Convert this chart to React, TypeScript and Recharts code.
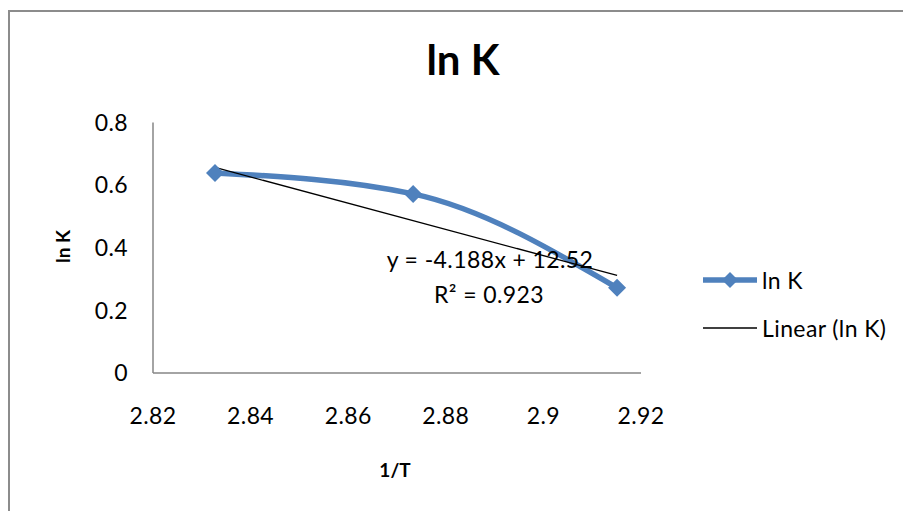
import { LineChart, Line, XAxis, YAxis, Legend } from "recharts";

// 1/T (x) against ln K (y), three measured points
const invT = [2.8327, 2.8733, 2.9151];
const lnK = [0.639, 0.572, 0.272];

const xTicks = [2.82, 2.84, 2.86, 2.88, 2.9, 2.92];
const yTicks = [0, 0.2, 0.4, 0.6, 0.8];

// linear fit as printed on the chart
const trendSlope = -4.188;
const trendIntercept = 12.52;
const trendR2 = 0.923;

const BLUE = "#4F81BD";
const AXIS = "#868686";
const FONT = "Lato, 'Open Sans', sans-serif";

const W = 895;
const H = 503;

const points = invT.map((x, i) => ({ x, y: lnK[i] }));
const trendEnds = [invT[0], invT[invT.length - 1]].map((x) => ({ x, y: trendSlope * x + trendIntercept }));

const Diamond = ({ cx, cy, r = 9 }: { cx: number; cy: number; r?: number }) => (
  <polygon points={`${cx},${cy - r} ${cx + r},${cy} ${cx},${cy + r} ${cx - r},${cy}`} fill={BLUE} />
);

const renderDot = (props: any) => {
  const { cx, cy, index } = props;
  if (cx == null || cy == null) return <g key={`d-${index}`} />;
  return <Diamond key={`d-${index}`} cx={cx} cy={cy} />;
};

const LegendBox = () => (
  <div style={{ fontFamily: FONT, fontSize: 23, letterSpacing: 0.4, color: "#000" }}>
    <div style={{ display: "flex", alignItems: "center", height: 30, marginBottom: 18 }}>
      <svg width={54} height={30}>
        <line x1={0} y1={15} x2={54} y2={15} stroke={BLUE} strokeWidth={5.5} strokeLinecap="round" />
        <Diamond cx={27} cy={15} r={8} />
      </svg>
      <span style={{ marginLeft: 5 }}>ln K</span>
    </div>
    <div style={{ display: "flex", alignItems: "center", height: 30 }}>
      <svg width={54} height={30}>
        <line x1={0} y1={15} x2={54} y2={15} stroke="#000" strokeWidth={1.3} />
      </svg>
      <span style={{ marginLeft: 5 }}>Linear (ln K)</span>
    </div>
  </div>
);

const fmtX = (v: number) => String(Number(v.toFixed(2)));

const tickStyle = { fontSize: 23, fill: "#000", fontFamily: FONT, letterSpacing: 0.4 };

const textBox = (cx: number, top: number, size: number, bold = false): React.CSSProperties => ({
  position: "absolute",
  left: cx - 150,
  top,
  width: 300,
  textAlign: "center",
  fontFamily: FONT,
  fontSize: size,
  lineHeight: `${size}px`,
  fontWeight: bold ? 700 : 400,
  color: "#000",
  whiteSpace: "nowrap",
});

export default function App() {
  return (
    // fixed so the frame reaches the window edges without making the page scroll
    <div style={{ position: "fixed", left: 8, top: 8, width: W, height: H, overflow: "hidden", background: "#fff" }}>
      {/* chart frame: left and top edges only */}
      <div style={{ position: "absolute", left: 0, top: 2, width: 2, height: H - 2, background: "#8c8c8c" }} />
      <div style={{ position: "absolute", left: 0, top: 2, width: W, height: 2, background: "#8c8c8c" }} />
      <LineChart width={W} height={H} margin={{ top: 114.5, right: 262, bottom: 78, left: 85 }}>
        <XAxis
          dataKey="x"
          type="number"
          domain={[2.82, 2.92]}
          ticks={xTicks}
          allowDataOverflow
          tickFormatter={fmtX}
          height={60}
          stroke={AXIS}
          strokeWidth={1.5}
          tickLine={false}
          tickSize={0}
          tickMargin={35}
          tick={tickStyle}
        />
        <YAxis
          type="number"
          domain={[0, 0.8]}
          ticks={yTicks}
          width={60}
          stroke={AXIS}
          strokeWidth={1.5}
          tickLine={false}
          tickSize={0}
          tickMargin={25}
          tick={tickStyle}
        />
        <Legend
          layout="vertical"
          align="center"
          verticalAlign="middle"
          content={() => <LegendBox />}
          wrapperStyle={{ left: 695, top: 257, width: 190 }}
        />
        <Line
          data={points}
          dataKey="y"
          name="ln K"
          type="monotone"
          stroke={BLUE}
          strokeWidth={5.5}
          dot={renderDot}
          activeDot={false}
          isAnimationActive={false}
        />
        <Line
          data={trendEnds}
          dataKey="y"
          name="Linear (ln K)"
          type="linear"
          stroke="#000"
          strokeWidth={1.3}
          dot={false}
          activeDot={false}
          isAnimationActive={false}
        />
      </LineChart>

      <div style={textBox(455, 30, 42, true)}>ln K</div>
      <div style={{ ...textBox(482, 240, 23), letterSpacing: 0.4 }}>
        y = {trendSlope}x + {trendIntercept}
      </div>
      <div style={{ ...textBox(481, 275, 23), letterSpacing: 0.4 }}>
        R² = {trendR2}
      </div>
      <div style={textBox(387, 452, 19, true)}>1/T</div>
      <div style={{ ...textBox(54, 229, 19, true), transform: "rotate(-90deg)" }}>ln K</div>
    </div>
  );
}
